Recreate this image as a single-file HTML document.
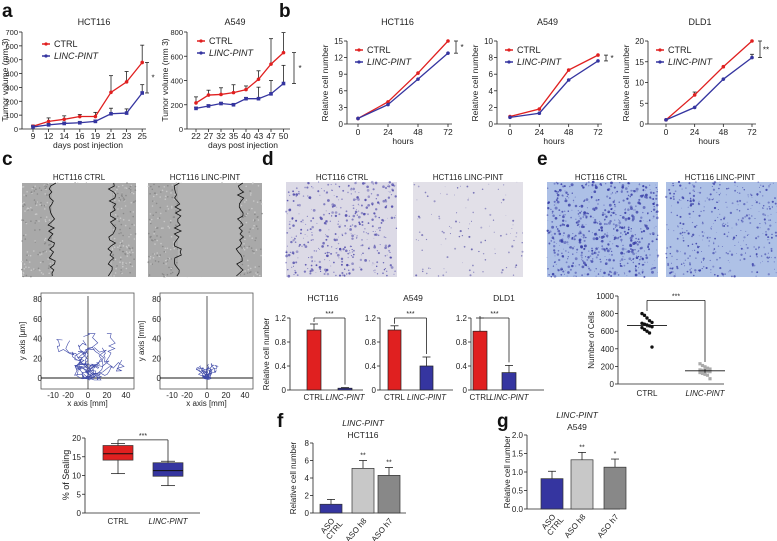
<!DOCTYPE html>
<html><head><meta charset="utf-8"><style>
html,body{margin:0;padding:0;background:#fff;}
svg{display:block;font-family:"Liberation Sans",Arial,sans-serif;}
</style></head><body>
<svg id="fig" width="777" height="541" viewBox="0 0 777 541" xmlns="http://www.w3.org/2000/svg"></svg>
<script>
// ---------- DATA ----------
const aDays1=[9,12,14,16,19,21,23,25];
const aHctCtrl=[20,55,70,90,90,265,340,480];
const aHctCtrlErr=[8,25,25,15,30,120,75,125];
const aHctPint=[15,30,40,45,55,110,115,260];
const aHctPintErr=[5,10,10,10,10,40,30,60];
const aDays2=[22,27,32,35,40,43,47,50];
const aA549Ctrl=[215,280,285,300,325,410,535,630];
const aA549CtrlErr=[50,40,55,65,30,70,210,165];
const aA549Pint=[170,190,210,200,250,250,290,375];
const aA549PintErr=[10,10,10,10,10,95,110,150];
const bHours=[0,24,48,72];
const bHctCtrl=[1,4,9.2,15];
const bHctPint=[1,3.5,8.1,12.8];
const bA549Ctrl=[0.9,1.8,6.5,8.3];
const bA549Pint=[0.8,1.3,5.3,7.6];
const bDldCtrl=[1,7,13.8,20];
const bDldCtrlErr=[0,0.7,0,0];
const bDldPint=[1,4,10.8,16];
const bDldPintErr=[0,0,0,0.8];
const cBoxCats=["CTRL","LINC-PINT"];
const cBoxStats=[[10.5,14.1,15.8,18,18.5],[7.3,9.8,11.3,13.4,13.8]];
const dCats=["CTRL","LINC-PINT"];
const dHct=[1.0,0.03];const dHctErr=[0.1,0.01];
const dA549=[1.0,0.4];const dA549Err=[0.07,0.15];
const dDld=[0.98,0.29];const dDldErr=[0.22,0.12];
const eCtrlPts=[800,780,750,720,700,690,680,670,660,650,640,620,600,580,420];
const eCtrlMean=665;
const ePintPts=[230,210,195,180,170,160,155,150,145,140,130,120,110,100,60];
const ePintMean=150;
const fgCats=["ASO CTRL","ASO h8","ASO h7"];
const fVals=[1.0,5.1,4.3];const fErr=[0.55,0.9,0.9];
const gVals=[0.82,1.33,1.13];const gErr=[0.2,0.2,0.22];

// ---------- HELPERS ----------
const S=document.getElementById('fig');
const NS='http://www.w3.org/2000/svg';
function mk(tag,attrs,name,parent){
  const e=document.createElementNS(NS,tag);
  for(const k in attrs)e.setAttribute(k,attrs[k]);
  
  
  (parent||S).appendChild(e);return e;
}
function tx(x,y,s,name,o){o=o||{};
  const e=mk('text',{x:x,y:y,'font-size':o.fs||8,'text-anchor':o.a||'middle',fill:o.c||'#222','font-style':o.it?'italic':'normal','font-weight':o.b?'bold':'normal',transform:o.rot?`rotate(${o.rot} ${x} ${y})`:''},name);
  e.textContent=s;return e;}
function ln(x1,y1,x2,y2,name,c,w){return mk('line',{x1:x1,y1:y1,x2:x2,y2:y2,stroke:c||'#222','stroke-width':w||0.8},name);}
function scale(d0,d1,r0,r1){return v=>r0+(v-d0)/(d1-d0)*(r1-r0);}
function yAxis(x,Y,ticks,labels,name,fs){
  ln(x,Y(ticks[0]),x,Y(ticks[ticks.length-1]),name+'-line');
  ticks.forEach((t,i)=>{ln(x-3,Y(t),x,Y(t),name+'-tick');tx(x-4,Y(t)+3,labels[i],name+'-tick-label',{a:'end',fs:fs||8});});
}
function legend(x,y,name){
  ln(x,y,x+8,y,name+'-ctrl-swatch','#e02020',1.5);mk('circle',{cx:x+4,cy:y,r:1.6,fill:'#e02020'},name+'-ctrl-marker');
  tx(x+12,y+3,'CTRL',name+'-ctrl-label',{a:'start',fs:9});
  ln(x,y+12,x+8,y+12,name+'-pint-swatch','#3535a0',1.5);mk('circle',{cx:x+4,cy:y+12,r:1.6,fill:'#3535a0'},name+'-pint-marker');
  tx(x+12,y+15,'LINC-PINT',name+'-pint-label',{a:'start',fs:9,it:true});
}
function series(X,Y,xs,vals,errs,col,name,marker){
  const pts=xs.map((v,i)=>X(v,i)+','+Y(vals[i])).join(' ');
  if(errs)xs.forEach((v,i)=>{if(errs[i]>0){const x=X(v,i);ln(x,Y(vals[i]),x,Y(vals[i]+errs[i]),name+'-error','#222');ln(x-2,Y(vals[i]+errs[i]),x+2,Y(vals[i]+errs[i]),name+'-error-cap','#222');}});
  mk('polyline',{points:pts,fill:'none',stroke:col,'stroke-width':1.3},name+'-line');
  xs.forEach((v,i)=>{mk(marker==='sq'?'rect':'circle',marker==='sq'?{x:X(v,i)-1.8,y:Y(vals[i])-1.8,width:3.6,height:3.6,fill:col}:{cx:X(v,i),cy:Y(vals[i]),r:1.8,fill:col},name+'-point');});
}
function bracket(x,y1,y2,lab,name){ln(x,y1,x,y2,name);ln(x-2,y1,x+2,y1,name);ln(x-2,y2,x+2,y2,name);tx(x+6,(y1+y2)/2+3,lab,name+'-label',{fs:8});}
function letter(x,y,s){tx(x,y,s,'panel-letter-'+s,{fs:19,b:true,a:'start',c:'#111'});}

// ---------- PANEL LETTERS ----------
letter(2,17,'a');letter(279,17,'b');letter(2,165,'c');letter(262,165,'d');letter(537,165,'e');letter(277,427,'f');letter(497,427,'g');

// ---------- PANEL A ----------
(function(){
  let Y=scale(0,700,129,32), X=(v,i)=>33+i*15.6;
  tx(94,25,'HCT116','a-hct116-title',{fs:9});
  yAxis(22,Y,[0,100,200,300,400,500,600,700],['0','100','200','300','400','500','600','700'],'a-hct116-y-axis',7.5);
  ln(22,129,146,129,'a-hct116-x-axis');
  aDays1.forEach((d,i)=>{ln(X(d,i),129,X(d,i),132,'a-hct116-x-tick');tx(X(d,i),139,d,'a-hct116-x-tick-label',{fs:8.5});});
  tx(8,80,'Tumor volume (mm 3)','a-hct116-y-title',{fs:8.5,rot:-90});
  tx(88,148,'days post injection','a-hct116-x-title',{fs:8.5});
  series(X,Y,aDays1,aHctCtrl,aHctCtrlErr,'#e02020','a-hct116-ctrl');
  series(X,Y,aDays1,aHctPint,aHctPintErr,'#3535a0','a-hct116-pint','sq');
  bracket(147,Y(480),Y(260),'*','a-hct116-significance');
  legend(42,44,'a-hct116-legend');
  Y=scale(0,800,129,32); X=(v,i)=>196+i*12.5;
  tx(235,25,'A549','a-a549-title',{fs:9});
  yAxis(187,Y,[0,200,400,600,800],['0','200','400','600','800'],'a-a549-y-axis',7.5);
  ln(187,129,290,129,'a-a549-x-axis');
  aDays2.forEach((d,i)=>{ln(X(d,i),129,X(d,i),132,'a-a549-x-tick');tx(X(d,i),139,d,'a-a549-x-tick-label',{fs:8.5});});
  tx(168,80,'Tumor volume (mm 3)','a-a549-y-title',{fs:8.5,rot:-90});
  tx(243,148,'days post injection','a-a549-x-title',{fs:8.5});
  series(X,Y,aDays2,aA549Ctrl,aA549CtrlErr,'#e02020','a-a549-ctrl');
  series(X,Y,aDays2,aA549Pint,aA549PintErr,'#3535a0','a-a549-pint','sq');
  bracket(294,Y(630),Y(375),'*','a-a549-significance');
  legend(197,41,'a-a549-legend');
})();

// ---------- PANEL B ----------
function bChart(ax,x0,x1,ymax,ticks,title,ctrl,pint,ce,pe,sig,name){
  const Y=scale(0,ymax,124,41),X=scale(0,72,x0,x1);
  tx((ax+x1)/2,25,title,name+'-title',{fs:9});
  yAxis(ax,Y,ticks,ticks.map(String),name+'-y-axis');
  ln(ax,124,x1+4,124,name+'-x-axis');
  bHours.forEach(h=>{ln(X(h),124,X(h),127,name+'-x-tick');tx(X(h),135,h,name+'-x-tick-label',{fs:8.5});});
  tx(ax-19,83,'Relative cell number',name+'-y-title',{fs:8.5,rot:-90});
  tx((x0+x1)/2,144,'hours',name+'-x-title',{fs:8.5});
  series(X,Y,bHours,ctrl,ce,'#e02020',name+'-ctrl');
  series(X,Y,bHours,pint,pe,'#3535a0',name+'-pint');
  bracket(x1+8,Y(ctrl[3]),Y(pint[3]),sig,name+'-significance');
  legend(ax+8,50,name+'-legend');
}
bChart(347,358,448,15,[0,3,6,9,12,15],'HCT116',bHctCtrl,bHctPint,null,null,'*','b-hct116');
bChart(497,510,598,10,[0,2,4,6,8,10],'A549',bA549Ctrl,bA549Pint,null,null,'*','b-a549');
bChart(648,666,752,20,[0,5,10,15,20],'DLD1',bDldCtrl,bDldPint,bDldCtrlErr,bDldPintErr,'**','b-dld1');

// ---------- IMAGES ----------
let seed=7;function rnd(){seed=(seed*16807)%2147483647;return seed/2147483647;}
function photo(x,y,w,h,bg,dot,n,rmax,name){
  const g=mk('g',{},name);
  mk('rect',{x:x,y:y,width:w,height:h,fill:bg},name+'-background',g);
  for(let i=0;i<n;i++){mk('circle',{cx:(x+rnd()*w).toFixed(1),cy:(y+rnd()*h).toFixed(1),r:(0.3+rnd()*rmax).toFixed(2),fill:dot,opacity:(0.4+rnd()*0.5).toFixed(2)},name+'-cell',g);}
  return g;
}
function scratch(x,y,w,h,l,r,name){
  const g=mk('g',{},name);
  mk('rect',{x:x,y:y,width:w,height:h,fill:'#a9a9a9'},name+'-background',g);
  for(let i=0;i<500;i++){mk('circle',{cx:(x+rnd()*w).toFixed(1),cy:(y+rnd()*h).toFixed(1),r:0.8,fill:rnd()>0.5?'#c8c8c8':'#8a8a8a'},name+'-texture',g);}
  mk('rect',{x:x+l,y:y,width:r-l,height:h,fill:'#b4b4b4'},name+'-gap',g);
  [l,r].forEach(e=>{let p=[];for(let yy=0;yy<=h;yy+=3)p.push((x+e+(rnd()-0.5)*8).toFixed(1)+','+(y+yy));mk('polyline',{points:p.join(' '),fill:'none',stroke:'#111','stroke-width':0.8},name+'-edge',g);});
}
tx(79,180,'HCT116 CTRL','c-img1-title',{fs:8});tx(205,180,'HCT116 LINC-PINT','c-img2-title',{fs:8});
scratch(22,183,114,94,30,90,'c-scratch-ctrl');scratch(148,183,114,94,30,92,'c-scratch-pint');
tx(342,180,'HCT116 CTRL','d-img1-title',{fs:8});tx(468,180,'HCT116 LINC-PINT','d-img2-title',{fs:8});
photo(286,182,111,95,'#dcdae6','#4a45a8',420,1.1,'d-transwell-ctrl');photo(413,182,110,95,'#e2e0e8','#5a55a8',110,0.8,'d-transwell-pint');
tx(601,180,'HCT116 CTRL','e-img1-title',{fs:8});tx(720,180,'HCT116 LINC-PINT','e-img2-title',{fs:8});
photo(547,182,111,95,'#adc0e6','#3439a4',650,1.2,'e-invasion-ctrl');photo(666,182,111,95,'#aec1e6','#3a3fa8',400,0.9,'e-invasion-pint');

// ---------- PANEL C TRACKS ----------
function tracks(fx,fy,fw,fh,spread,ylab,name){
  mk('rect',{x:fx,y:fy,width:fw,height:fh,fill:'none',stroke:'#555','stroke-width':0.8},name+'-frame');
  const X=v=>fx+47+v*0.95,Y=scale(0,80,fy+85,fy+6);
  ln(X(0),fy+3,X(0),fy+fh,name+'-y-zero','#333');ln(fx,Y(0),fx+fw,Y(0),name+'-x-zero','#666',1.4);
  [0,20,40,60,80].forEach(t=>tx(fx+1,Y(t)+3,t,name+'-y-tick-label',{a:'end'}));
  [['-10',fx+12],['-20',fx+27],['0',X(0)],['20',X(20)],['40',X(40)]].forEach(([t,x])=>tx(x,fy+fh+9,t,name+'-x-tick-label'));
  tx(fx+fw/2,fy+fh+17,'x axis [mm]',name+'-x-title');
  tx(fx-16,fy+fh/2,ylab,name+'-y-title',{rot:-90});
  for(let k=0;k<14;k++){let px=X(0),py=Y(0),p=[px+','+py];for(let s=0;s<16;s++){px+=(rnd()-0.5)*spread;py-=(rnd()-0.3)*spread*0.6;
      px=Math.max(fx+15,Math.min(fx+fw-10,px));py=Math.max(Y(45),Math.min(Y(-2),py));p.push(px.toFixed(1)+','+py.toFixed(1));}
    mk('polyline',{points:p.join(' '),fill:'none',stroke:'#3f4aa8','stroke-width':0.6},name+'-track');}
}
tracks(41,293,93,96,14,'y axis [μm]','c-tracks-ctrl');
tracks(160,293,93,96,5,'y axis [mm]','c-tracks-pint');

// ---------- PANEL C BOX ----------
(function(){
  const Y=scale(0,20,513,438),xs=[118,168],cols=['#e02020','#3535a0'];
  yAxis(85,Y,[0,5,10,15,20],['0','5','10','15','20'],'c-box-y-axis');
  ln(85,513,200,513,'c-box-x-axis');
  tx(69,475,'% of Sealing','c-box-y-title',{fs:9,rot:-90});
  cBoxCats.forEach((c,i)=>{const s=cBoxStats[i],x=xs[i];
    ln(x,Y(s[0]),x,Y(s[4]),'box-whisker');ln(x-7,Y(s[0]),x+7,Y(s[0]),'box-whisker-cap');ln(x-7,Y(s[4]),x+7,Y(s[4]),'box-whisker-cap');
    mk('rect',{x:x-15,y:Y(s[3]),width:30,height:Y(s[1])-Y(s[3]),fill:cols[i],stroke:'#333','stroke-width':0.7},'box-'+c);
    ln(x-15,Y(s[2]),x+15,Y(s[2]),'box-median','#111',1);
    tx(x,524,c,'c-box-x-label',{fs:8,it:i===1});});
  ln(118,Y(19.5),168,Y(19.5),'c-box-significance');ln(118,Y(19.5),118,Y(18.5),'c-box-significance');ln(168,Y(19.5),168,Y(13.8),'c-box-significance');
  tx(143,Y(19.5)-2,'***','c-box-significance-label',{fs:7});
})();

// ---------- PANEL D BARS ----------
function dBar(ax,xs,w,vals,errs,title,name,ylab){
  const Y=scale(0,1.2,390,318);
  tx(ax+33,301,title,name+'-title',{fs:8.5});
  yAxis(ax,Y,[0,0.4,0.8,1.2],['0','0.4','0.8','1.2'],name+'-y-axis');
  ln(ax,390,ax+73,390,name+'-x-axis');
  if(ylab)tx(ax-21,354,'Relative cell number',name+'-y-title',{fs:8,rot:-90});
  const cols=['#e02020','#3535a0'];
  dCats.forEach((c,i)=>{const x=xs[i];
    ln(x+w/2,Y(vals[i]),x+w/2,Y(vals[i]+errs[i]),name+'-error');ln(x+w/2-4,Y(vals[i]+errs[i]),x+w/2+4,Y(vals[i]+errs[i]),name+'-error-cap');
    mk('rect',{x:x,y:Y(vals[i]),width:w,height:390-Y(vals[i]),fill:cols[i],stroke:'#222','stroke-width':0.7},name+'-bar-'+c);
    tx(x+w/2,400,c,name+'-x-label',{fs:8,it:i===1});});
  const xa=xs[0]+w/2,xb=xs[1]+w/2,yb=Y(1.2);
  ln(xa,yb,xb,yb,name+'-significance');ln(xa,yb,xa,Y(vals[0]+errs[0])-2,name+'-significance');ln(xb,yb,xb,Y(vals[1]+errs[1])-3,name+'-significance');
  tx((xa+xb)/2,yb-2,'***',name+'-significance-label',{fs:7});
}
dBar(290,[307,338],14,dHct,dHctErr,'HCT116','d-hct116',true);
dBar(380,[388,420],13,dA549,dA549Err,'A549','d-a549');
dBar(471,[473,502],14,dDld,dDldErr,'DLD1','d-dld1');

// ---------- PANEL E SCATTER ----------
(function(){
  const Y=scale(0,1000,384,296),xs=[647,705];
  yAxis(618,Y,[0,200,400,600,800,1000],['0','200','400','600','800','1000'],'e-y-axis');
  ln(618,384,724,384,'e-x-axis');
  tx(594,340,'Number of Cells','e-y-title',{fs:8,rot:-90});
  [eCtrlPts,ePintPts].forEach((pts,i)=>{pts.forEach((v,j)=>{const dx=((j%5)-2)*2.5;
    if(i===0)mk('circle',{cx:xs[i]+dx,cy:Y(v),r:1.7,fill:'#111'},'e-ctrl-point');
    else mk('rect',{x:xs[i]+dx-1.6,y:Y(v)-1.6,width:3.2,height:3.2,fill:'#aaa'},'e-pint-point');});
    const m=i?ePintMean:eCtrlMean;ln(xs[i]-20,Y(m),xs[i]+20,Y(m),'e-mean-line','#111',0.9);ln(xs[i],Y(m-25),xs[i],Y(m+25),'e-sem','#111');
    tx(xs[i],396,cBoxCats[i],'e-x-label',{fs:8,it:i===1});});
  ln(647,Y(950),705,Y(950),'e-significance');ln(647,Y(950),647,Y(830),'e-significance');ln(705,Y(950),705,Y(250),'e-significance');
  tx(676,Y(950)-2,'***','e-significance-label',{fs:7});
})();

// ---------- PANELS F / G ----------
function aso(ax,y0,y1,ymax,ticks,labs,vals,errs,xs,w,sigs,title,name){
  const Y=scale(0,ymax,y0,y1),cols=['#3535a0','#c8c8c8','#888'];
  tx(ax+50,y1-17,'LINC-PINT',name+'-title-gene',{fs:8.5,it:true});
  tx(ax+50,y1-5,title,name+'-title-cell',{fs:8.5});
  yAxis(ax,Y,ticks,labs,name+'-y-axis');
  ln(ax,y0,ax+93,y0,name+'-x-axis');
  tx(ax-17,(y0+y1)/2,'Relative cell number',name+'-y-title',{fs:8,rot:-90});
  fgCats.forEach((c,i)=>{const x=xs[i];
    ln(x+w/2,Y(vals[i]),x+w/2,Y(vals[i]+errs[i]),name+'-error');ln(x+w/2-4,Y(vals[i]+errs[i]),x+w/2+4,Y(vals[i]+errs[i]),name+'-error-cap');
    mk('rect',{x:x,y:Y(vals[i]),width:w,height:y0-Y(vals[i]),fill:cols[i],stroke:'#333','stroke-width':0.7},name+'-bar-'+c.replace(' ','-'));
    if(sigs[i])tx(x+w/2,Y(vals[i]+errs[i])-3,sigs[i],name+'-sig',{fs:7});
    const parts=c.split(' ');const cx=x+w/2+4,cy=y0+8;
    tx(cx,cy,parts[0]+(i?' '+parts[1]:''),name+'-x-label',{fs:8,a:'end',rot:-50});
    if(!i)tx(cx+8,cy+3,'CTRL',name+'-x-label',{fs:8,a:'end',rot:-50});});
}
aso(313,513,443,8,[0,2,4,6,8],['0','2','4','6','8'],fVals,fErr,[320,352,378],22,['','**','**'],'HCT116','f');
aso(527,509,435,2,[0,0.5,1,1.5,2],['0.0','0.5','1.0','1.5','2.0'],gVals,gErr,[541,571,604],22,['','**','*'],'A549','g');
</script>
</body></html>
